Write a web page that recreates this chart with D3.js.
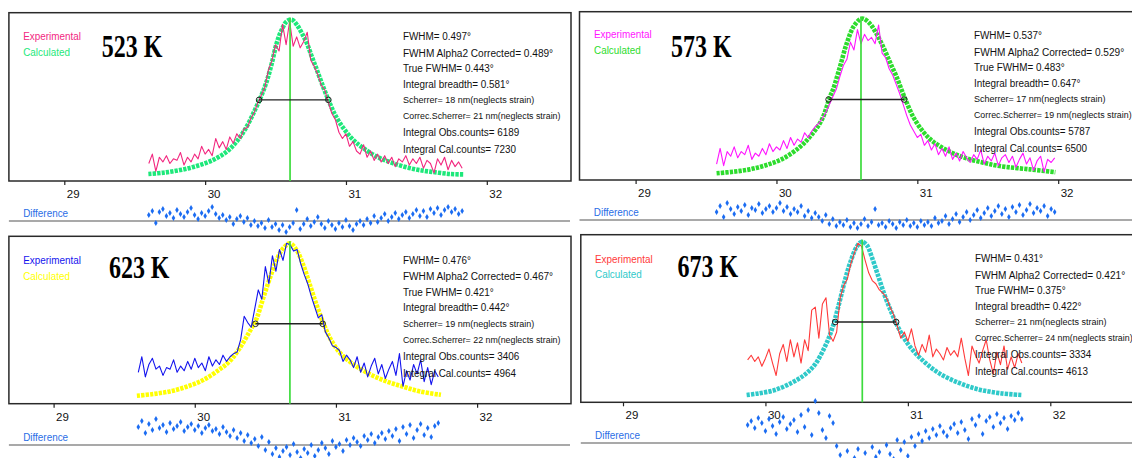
<!DOCTYPE html>
<html><head><meta charset="utf-8">
<script src="https://cdn.jsdelivr.net/npm/d3@7/dist/d3.min.js"></script>
<style>html,body{margin:0;padding:0;background:#fff;}svg{display:block;}</style>
</head><body>
<svg id="c" width="1132" height="458"></svg>
<script>
// ---------------- DATA ----------------
const titles = ["523 K", "573 K", "623 K", "673 K"];
const tickValues = [29, 30, 31, 32];
const legendLabels = ["Experimental", "Calculated"];
const diffLabel = "Difference";

const fwhmVals = ["0.497", "0.537", "0.476", "0.431"];
const alpha2Vals = ["0.489", "0.529", "0.467", "0.421"];
const trueFwhmVals = ["0.443", "0.483", "0.421", "0.375"];
const breadthVals = ["0.581", "0.647", "0.442", "0.422"];
const scherrerVals = ["18", "17", "19", "21"];
const correcVals = ["21", "19", "22", "24"];
const obsCounts = ["6189", "5787", "3406", "3334"];
const calCounts = ["7230", "6500", "4964", "4613"];

// peak position (green marker) and FWHM bar [left 2θ, right 2θ, relative height]
const peakPos = [30.603, 30.600, 30.674, 30.680];
const fwhmBars = [[30.383, 30.875, 48.7], [30.37, 30.907, 48.3], [30.43, 30.906, 48.2], [30.49, 30.918, 48.4]];

// experimental scans: first 2θ and step, intensities relative to calculated peak (=100)
const scanStart = [29.600, 29.575, 29.600, 29.875];
const scanStep = 0.025;

const exp523 = [8,14,3,12,9,13,8,11,10,15,7,12,9,14,11,19,14,17,13,24,18,22,17,25,21,27,24,30,31,37,
  41,47,52,57,68,74,84,80,97,84,99,83,89,82,86,92,74,70,65,58,55,47,40,36,28,24,27,19,22,16,
  14,20,12,16,10,14,9,13,8,12,6,11,9,13,7,11,8,12,5,10,8,2,11,7,12,4,10,6,9,5];
const exp573 = [7,17,6,15,12,18,11,15,13,19,10,14,12,17,13,20,15,18,16,22,17,24,19,23,21,27,24,28,31,33,
  36,40,45,50,55,63,70,74,85,80,93,84,90,86,88,84,96,78,75,68,64,58,52,45,38,32,28,24,26,19,
  22,16,20,13,17,12,18,10,14,9,15,11,8,13,10,16,7,12,9,14,6,11,13,8,12,5,10,14,7,11,
  3,9,12,2,10,8,11];
const exp623 = [17,27,14,22,26,19,21,15,20,19,25,17,21,18,24,19,26,20,23,18,27,21,25,22,28,24,27,29,30,38,
  53,49,46,58,70,64,85,74,92,82,96,89,100,99,95,96,87,80,74,66,59,52,54,43,39,34,33,31,24,28,
  25,20,27,17,23,14,21,26,16,22,13,19,24,15,29,8,18,12,22,16,25,11,20,9,18,14];
const exp673 = [24,27,23,26,20,25,31,22,14,28,34,23,37,26,35,22,37,30,56,58,38,60,64,40,36,42,64,72,76,86,
  93,99,97,88,80,75,73,69,67,64,58,53,46,38,42,36,44,33,27,34,29,40,26,31,28,24,32,27,30,26,
  38,25,14,33,27,22,30,37,24,15,29,21,33,18,26,19,28,22];

// difference points (same 2θ grid as the scans)
const diff523 = [6,10,-2,9,12,5,8,3,11,7,4,9,13,6,2,8,5,10,14,7,3,
  6,1,4,-3,2,5,-1,3,-4,0,-5,-2,-7,1,-6,-3,-9,-4,-11,-6,
  -2,11,-8,-3,2,-5,-1,4,-3,-7,0,-4,-8,-2,-6,1,-5,-9,-3,0,
  -4,2,-2,5,-1,3,7,0,4,8,2,6,9,3,7,11,5,10,4,12,
  8,13,6,11,14,9,12,7,10];
const diff573 = [8,14,3,17,11,6,13,9,15,5,12,10,16,7,11,14,8,12,17,9,
  13,6,11,8,14,4,9,2,7,3,-1,5,-4,1,-6,-2,-5,0,-7,-3,
  -8,-4,1,-6,-2,11,-5,-3,-7,-1,-4,-8,-2,-5,0,-6,-3,-7,-1,-5,
  -2,-6,2,-3,-1,4,-4,1,6,-2,3,8,0,5,10,2,7,12,4,9,
  14,6,11,3,13,8,15,5,10,16,7,12,9,14,4,11,8];
const diff623 = [18,24,12,21,15,26,17,20,13,22,16,19,23,14,18,21,15,19,12,17,
  20,14,16,11,18,13,9,15,7,12,4,10,2,6,-1,8,-5,3,-9,-3,
  -12,-6,-2,-10,1,-7,-13,-4,-8,0,-11,-5,2,-3,-9,4,-2,1,-6,5,
  0,7,3,-1,9,5,11,2,8,12,6,14,9,16,4,18,11,20,7,15,
  21,10,17,8,19,22];
const diff673 = [18,22,15,25,20,12,24,17,9,21,26,14,19,23,11,28,16,33,8,42,
  30,13,5,27,20,-3,-12,-18,-8,-22,-15,-6,-19,-10,-24,-4,-14,-9,-20,-2,
  -11,-16,3,-7,1,-13,6,-3,9,2,12,5,14,8,17,11,7,15,19,10,
  21,13,4,24,18,27,9,22,26,16,29,20,25,14,27,23,30,24];

// calculated profiles: [2θ, relative intensity]
const calc523 = [[29.597,1.3],[29.703,2.1],[29.822,3.8],[29.94,6.4],[30.058,10.3],[30.153,15.6],[30.224,22],
  [30.295,31.6],[30.354,42.3],[30.402,52],[30.437,60.5],[30.473,72],[30.508,85],[30.544,93.6],[30.58,99],
  [30.615,100],[30.651,96.8],[30.686,91.5],[30.722,85],[30.757,76.5],[30.793,68],[30.828,59.4],[30.875,48.7],
  [30.923,39.1],[30.982,30.6],[31.053,23],[31.124,17.8],[31.219,12.4],[31.337,8.1],[31.479,4.5],[31.597,2.8],
  [31.739,1.3],[31.84,1.0]];
const calc573 = [[29.575,1.1],[29.694,2.1],[29.812,3.6],[29.93,6.4],[30.048,10.6],[30.167,18],[30.237,24.4],
  [30.32,35],[30.38,50],[30.403,55],[30.45,69],[30.498,84],[30.545,94.6],[30.593,99.6],[30.617,100],
  [30.664,96.8],[30.71,90.4],[30.758,81.9],[30.805,72.3],[30.853,62.7],[30.912,49],[30.971,37.2],[31.042,27.6],
  [31.113,21.3],[31.231,14.9],[31.35,10.6],[31.468,7.9],[31.586,5.7],[31.80,3.6],[31.98,1.8]];
const calc623 = [[29.59,1.9],[29.706,3],[29.824,4.7],[29.942,7.7],[30.06,12],[30.178,19],[30.249,24.3],
  [30.32,32.8],[30.39,43.5],[30.438,51.6],[30.485,64.8],[30.532,77.6],[30.58,89.4],[30.627,96.8],[30.674,100],
  [30.72,95.8],[30.768,86.2],[30.815,73.4],[30.862,60.6],[30.91,48.8],[30.957,39.2],[31.028,29.6],[31.122,22.2],
  [31.24,15.8],[31.359,11.1],[31.477,7.7],[31.595,4.7],[31.744,2.5]];
const calc673 = [[29.868,1.5],[29.95,2.5],[30.067,4.7],[30.185,9.4],[30.278,14.7],[30.348,21.1],[30.419,32.8],
  [30.466,43.5],[30.512,58.4],[30.559,75.5],[30.594,86.2],[30.641,96.8],[30.676,100],[30.711,97.9],[30.746,90.4],
  [30.793,77.6],[30.84,64.8],[30.887,54.1],[30.934,44.5],[31.004,33.8],[31.098,24.2],[31.215,15.7],[31.355,9.4],
  [31.496,5.1],[31.648,2.6],[31.80,1.5]];

const expSeries = [exp523, exp573, exp623, exp673];
const diffSeries = [diff523, diff573, diff623, diff673];
const calcSeries = [calc523, calc573, calc623, calc673];

// ---------------- LAYOUT & STYLE ----------------
const layout = [
  {left: 8.9, right: 571, top: 12.7, bottom: 181, x29: 64.3, x32: 486.8, diffY: 221, diffRight: 570, titleX: 101.8, titleY: 57.3, legX: 23.2, legY: 36, infoX: 402.9},
  {left: 579.5, right: 1140, top: 11.7, bottom: 180, x29: 635.6, x32: 1058.2, diffY: 220, diffRight: 1132, titleX: 671, titleY: 57.3, legX: 594, legY: 34.3, infoX: 974},
  {left: 8.9, right: 571, top: 236.3, bottom: 403.7, x29: 53.6, x32: 477.1, diffY: 445, diffRight: 570, titleX: 108.9, titleY: 278, legX: 23.2, legY: 260.3, infoX: 402.9},
  {left: 580.8, right: 1140, top: 234.7, bottom: 402.3, x29: 623, x32: 1050.3, diffY: 443, diffRight: 1132, titleX: 677.5, titleY: 277.3, legX: 595, legY: 258.7, infoX: 975}
];
const expColors = ["#f2277f", "#ff14ff", "#1414ee", "#ff3a3a"];
const calcColors = ["#1de87a", "#2ddc2d", "#ffff00", "#2fc9c9"];
const infoOffsets = [23.5, 40, 55.6, 71, 87, 103, 119.5, 136.4];
const SANS = "'Liberation Sans', Arial, Helvetica, sans-serif";
const SERIF = "'Liberation Serif', 'Times New Roman', serif";

const svg = d3.select("#c");
svg.append("rect").attr("width", 1132).attr("height", 458).attr("fill", "#fff");

function addText(g, x, y, str, size, sx, color, family, weight) {
  return g.append("text")
    .attr("transform", `translate(${x},${y}) scale(${sx},1)`)
    .attr("font-family", family || SANS)
    .attr("font-size", size)
    .attr("font-weight", weight || "normal")
    .attr("fill", color)
    .text(str);
}

layout.forEach((P, k) => {
  const g = svg.append("g");
  const x = d3.scaleLinear().domain([29, 32]).range([P.x29, P.x32]);
  const y = d3.scaleLinear().domain([0, 100]).range([P.bottom - 5, P.top + 7]);
  const yd = d3.scaleLinear().domain([-10, 10]).range([P.diffY + 10, P.diffY - 10]);
  const start = scanStart[k];
  const tt = (i) => start + i * scanStep;

  // plot frame
  g.append("rect").attr("x", P.left).attr("y", P.top)
    .attr("width", P.right - P.left).attr("height", P.bottom - P.top)
    .attr("fill", "#fff").attr("stroke", "#2a2a2a").attr("stroke-width", 1.5);

  // axis
  const axis = d3.axisBottom(x).tickValues(tickValues).tickSize(4).tickFormat(d3.format("d"));
  const ag = g.append("g").attr("transform", `translate(0,${P.bottom})`).call(axis);
  ag.select(".domain").remove();
  ag.selectAll(".tick line").attr("stroke", "#222").attr("stroke-width", 1.2);
  ag.selectAll(".tick text")
    .attr("x", 2).attr("y", 17).attr("dy", null)
    .attr("text-anchor", "start")
    .attr("font-family", SANS).attr("font-size", 11.5).attr("fill", "#111");

  // calculated profile (beaded)
  const calcLine = d3.line().x(d => x(d[0])).y(d => y(d[1])).curve(d3.curveCatmullRom);
  g.append("path").attr("d", calcLine(calcSeries[k]))
    .attr("fill", "none").attr("stroke", calcColors[k])
    .attr("stroke-width", 4.6).attr("stroke-dasharray", "3.3,1.1");

  // experimental scan
  const expLine = d3.line().x((d, i) => x(tt(i))).y(d => y(d));
  g.append("path").attr("d", expLine(expSeries[k]))
    .attr("fill", "none").attr("stroke", expColors[k]).attr("stroke-width", 1.1)
    .attr("stroke-linejoin", "round");

  // peak marker
  g.append("line").attr("x1", x(peakPos[k])).attr("x2", x(peakPos[k]))
    .attr("y1", y(100) - 2).attr("y2", P.bottom)
    .attr("stroke", "#3ddc3d").attr("stroke-width", 1.7);

  // FWHM bar
  const fb = fwhmBars[k];
  g.append("line").attr("x1", x(fb[0])).attr("x2", x(fb[1]))
    .attr("y1", y(fb[2])).attr("y2", y(fb[2]))
    .attr("stroke", "#222").attr("stroke-width", 1.4);
  g.selectAll("circle.fw").data([fb[0], fb[1]]).join("circle")
    .attr("cx", d => x(d)).attr("cy", y(fb[2])).attr("r", 2.8)
    .attr("fill", "none").attr("stroke", "#222").attr("stroke-width", 1);

  // difference row
  g.append("line").attr("x1", P.left).attr("x2", P.diffRight)
    .attr("y1", P.diffY).attr("y2", P.diffY)
    .attr("stroke", "#8c8c8c").attr("stroke-width", 1.6);
  g.selectAll("path.dd").data(diffSeries[k]).join("path")
    .attr("d", d3.symbol(d3.symbolDiamond, 11))
    .attr("transform", (d, i) => `translate(${x(tt(i))},${yd(d)})`)
    .attr("fill", "#1b6cf2");
  addText(g, P.left + 14.3, P.diffY - 4, diffLabel, 11, 0.9, "#2a6de6");

  // legend
  addText(g, P.legX, P.legY + 4, legendLabels[0], 11, 0.9, expColors[k]);
  addText(g, P.legX, P.legY + 19.7, legendLabels[1], 11, 0.9, calcColors[k]);

  // title
  addText(g, P.titleX, P.titleY, titles[k], 32, 0.75, "#000", SERIF, "bold");

  // info block
  const lines = [
    [`FWHM= ${fwhmVals[k]}°`, 11, 0.9],
    [`FWHM Alpha2 Corrected= ${alpha2Vals[k]}°`, 11, 0.92],
    [`True FWHM= ${trueFwhmVals[k]}°`, 11, 0.9],
    [`Integral breadth= ${breadthVals[k]}°`, 11, 0.9],
    [`Scherrer= ${scherrerVals[k]} nm(neglects strain)`, 9.5, 0.95],
    [`Correc.Scherrer= ${correcVals[k]} nm(neglects strain)`, 9.5, 0.93],
    [`Integral Obs.counts= ${obsCounts[k]}`, 11, 0.9],
    [`Integral Cal.counts= ${calCounts[k]}`, 11, 0.9]
  ];
  lines.forEach((L, j) => {
    addText(g, P.infoX, P.top + infoOffsets[j] + (L[1] > 10 ? 4 : 3.4), L[0], L[1], L[2], "#111");
  });
});
</script>
</body></html>
